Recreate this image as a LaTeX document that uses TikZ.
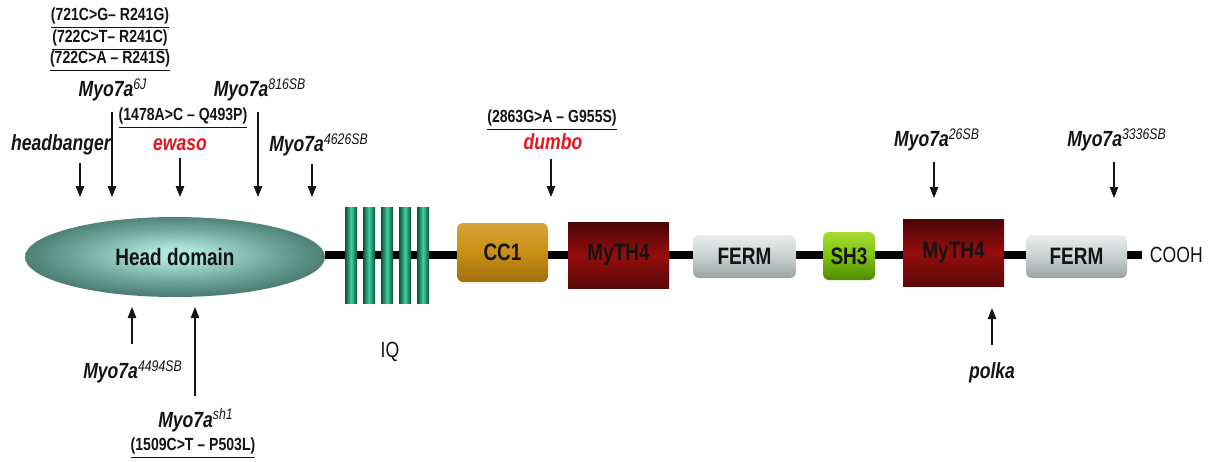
\documentclass[tikz,border=0pt]{standalone}
\usepackage{fontspec}
\usetikzlibrary{arrows.meta,positioning,shapes.geometric}
\newfontfamily\condsf[FakeStretch=0.8]{Liberation Sans}
\definecolor{Ink}{HTML}{141414}
\definecolor{MutRed}{HTML}{E5141E}
\definecolor{HeadLight}{HTML}{AEE6DB}
\definecolor{HeadMid}{HTML}{6DA397}
\definecolor{HeadDark}{HTML}{3A695F}
\definecolor{IQDark}{HTML}{0B5039}
\definecolor{IQLight}{HTML}{40CFA0}
\definecolor{GoldTop}{HTML}{D7A43A}
\definecolor{GoldMid}{HTML}{C98E12}
\definecolor{GoldBot}{HTML}{A0700E}
\definecolor{RedTop}{HTML}{4A0606}
\definecolor{RedMid}{HTML}{960D0D}
\definecolor{RedBot}{HTML}{5A0808}
\definecolor{GreyTop}{HTML}{E9EDED}
\definecolor{GreyMid}{HTML}{C9D0D0}
\definecolor{GreyBot}{HTML}{98A2A2}
\definecolor{LimeTop}{HTML}{A6DC30}
\definecolor{LimeMid}{HTML}{7EC20E}
\definecolor{LimeBot}{HTML}{4F8A00}
\pgfdeclareradialshading{headshade}{\pgfpoint{0bp}{2bp}}{color(0bp)=(HeadLight); color(4bp)=(HeadLight); color(17bp)=(HeadMid); color(30bp)=(HeadDark); color(50bp)=(HeadDark)}
\newcommand{\myo}[1]{Myo7a\textsuperscript{\normalfont\condsf\itshape #1}}
\tikzset{dombox/.style={inner sep=0pt,font=\condsf\bfseries\fontsize{13.5}{15}\selectfont,text=Ink},rdom/.style={dombox,rounded corners=1.2mm},iqbar/.style={inner sep=0pt,minimum width=.24cm,minimum height=1.92cm,left color=IQDark,right color=IQDark,middle color=IQLight},allele/.style={font=\condsf\bfseries\itshape\fontsize{12.5}{14}\selectfont,text=Ink,inner sep=1pt},change/.style={font=\condsf\bfseries\fontsize{10}{11}\selectfont,text=Ink,inner sep=1pt},plain/.style={font=\condsf\fontsize{12.5}{14}\selectfont,text=Ink},hit/.style={-{Triangle[length=2.2mm,width=1.7mm]},line width=.7pt,draw=Ink},chain/.style={line width=4.5pt,draw=black}}

\begin{document}
\begin{tikzpicture}[x=0.02cm,y=-0.02cm]
\useasboundingbox (0,0) rectangle (1222,461);
\node[dombox,ellipse,minimum width=6cm,minimum height=1.6cm,shading=headshade] (head) at (175,257) {Head domain};
\coordinate (cooh end) at (1142,255);
\draw[chain] (head.east |- cooh end) -- (cooh end);
\foreach \i in {0,...,4} \node[iqbar] (iq\i) at (351+18*\i,255) {};
\node[rdom,minimum width=1.82cm,minimum height=1.18cm,top color=GoldTop,bottom color=GoldBot,middle color=GoldMid] (cc1) at (502.5,252.5) {CC1};
\node[dombox,minimum width=2.02cm,minimum height=1.32cm,top color=RedTop,bottom color=RedBot,middle color=RedMid] (myth1) at (618.5,255) {MyTH4};
\node[rdom,minimum width=2.06cm,minimum height=.86cm,top color=GreyTop,bottom color=GreyBot,middle color=GreyMid] (ferm1) at (744.5,256.5) {FERM};
\node[rdom,minimum width=1.04cm,minimum height=.96cm,top color=LimeTop,bottom color=LimeBot,middle color=LimeMid] (sh3) at (849,256) {SH3};
\node[dombox,minimum width=2.02cm,minimum height=1.34cm,top color=RedTop,bottom color=RedBot,middle color=RedMid] (myth2) at (953.5,252.5) {MyTH4};
\node[rdom,minimum width=2.02cm,minimum height=.86cm,top color=GreyTop,bottom color=GreyBot,middle color=GreyMid] (ferm2) at (1076.5,256.5) {FERM};
\node[plain,right=1pt of cooh end] (cooh) {COOH};
\node[plain] (iq) at (390,352) {IQ};
\node[change] (r241g) at (110,18) {\underline{(721C>G– R241G)}};
\node[change] (r241c) at (110,40) {\underline{(722C>T– R241C)}};
\node[change] (r241s) at (110,61) {\underline{(722C>A – R241S)}};
\node[allele] (m6j) at (113,90) {\myo{6J}};
\node[allele] (m816) at (260,90) {\myo{816SB}};
\node[change] (q493p) at (183,118) {\underline{(1478A>C – Q493P)}};
\node[allele] (hb) at (61,145) {headbanger};
\node[allele,text=MutRed] (ewaso) at (180,145) {ewaso};
\node[allele] (m4626) at (319,145) {\myo{4626SB}};
\node[change] (g955s) at (552,120) {\underline{(2863G>A – G955S)}};
\node[allele,text=MutRed] (dumbo) at (553,142) {dumbo};
\node[allele] (m26) at (937,140) {\myo{26SB}};
\node[allele] (m3336) at (1117,140) {\myo{3336SB}};
\node[allele] (m4494) at (133,372) {\myo{4494SB}};
\node[allele] (sh1) at (196,420) {\myo{sh1}};
\node[change] (p503l) at (193,448) {\underline{(1509C>T – P503L)}};
\node[allele] (polka) at (992,373) {polka};
\coordinate (t hb) at (80,197);\coordinate (t 6j) at (112,197);\coordinate (t ew) at (180,197);\coordinate (t 816) at (258,197);\coordinate (t 4626) at (312,197);
\coordinate (t dumbo) at (551,197);\coordinate (t 26) at (934,198);\coordinate (t 3336) at (1114,198);
\coordinate (t 4494) at (132,307);\coordinate (t sh1) at (195,307);\coordinate (t polka) at (992,308);
\draw[hit,shorten <=3pt] (hb.south -| t hb)--(t hb);\draw[hit,shorten <=5pt] (m6j.south -| t 6j)--(t 6j);\draw[hit,shorten <=3pt] (ewaso.south -| t ew)--(t ew);
\draw[hit,shorten <=5pt] (m816.south -| t 816)--(t 816);\draw[hit,shorten <=3pt] (m4626.south -| t 4626)--(t 4626);
\draw[hit,shorten <=4pt] (dumbo.south -| t dumbo)--(t dumbo);\draw[hit,shorten <=5pt] (m26.south -| t 26)--(t 26);\draw[hit,shorten <=5pt] (m3336.south -| t 3336)--(t 3336);
\draw[hit,shorten <=8pt] (m4494.north -| t 4494)--(t 4494);\draw[hit,shorten <=6pt] (sh1.north -| t sh1)--(t sh1);\draw[hit,shorten <=9pt] (polka.north -| t polka)--(t polka);
\end{tikzpicture}
\end{document}
